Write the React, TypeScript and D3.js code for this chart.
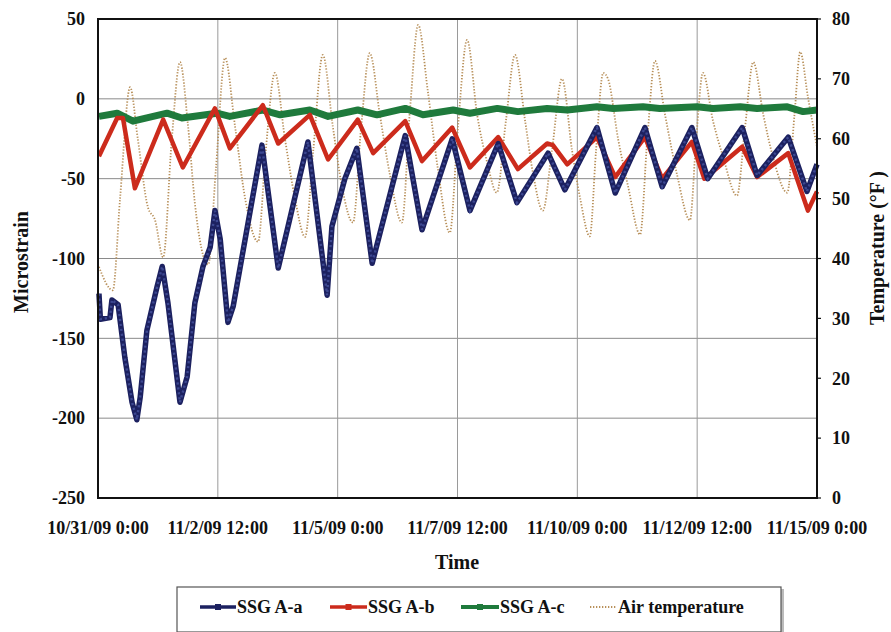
import React from "react";
import * as d3 from "d3";

// ---------- data (day offset from 10/31/09 0:00, value) ----------
const START_MS = Date.UTC(2009, 9, 31);
const xTickDays = [0, 2.5, 5, 7.5, 10, 12.5, 15];
const xTickLabels = [
  "10/31/09 0:00",
  "11/2/09 12:00",
  "11/5/09 0:00",
  "11/7/09 12:00",
  "11/10/09 0:00",
  "11/12/09 12:00",
  "11/15/09 0:00",
];
const leftTicks = [50, 0, -50, -100, -150, -200, -250];
const rightTicks = [80, 70, 60, 50, 40, 30, 20, 10, 0];

const ssgAa: [number, number][] = [
  [0.02, -122], [0.05, -138], [0.25, -137], [0.29, -126], [0.42, -129], [0.56, -162],
  [0.71, -190], [0.81, -201], [0.88, -187], [1.02, -145], [1.23, -118], [1.34, -105],
  [1.46, -128], [1.71, -190], [1.86, -174], [2.02, -128], [2.19, -105], [2.34, -93],
  [2.44, -70], [2.55, -88], [2.71, -140], [2.82, -130], [3.42, -29], [3.76, -106],
  [4.38, -27], [4.78, -123], [4.88, -80], [5.15, -50], [5.4, -31], [5.72, -103],
  [6.41, -23], [6.76, -82], [7.39, -25], [7.76, -70], [8.35, -28], [8.74, -65],
  [9.39, -34], [9.74, -57], [10.41, -18], [10.79, -59], [11.41, -18], [11.77, -55],
  [12.39, -18], [12.72, -50], [13.44, -18], [13.75, -48], [14.4, -24], [14.79, -58],
  [15.0, -41],
];

const ssgAb: [number, number][] = [
  [0.02, -36], [0.4, -12], [0.52, -12], [0.77, -56], [1.36, -13], [1.77, -43],
  [2.44, -6], [2.75, -31], [3.44, -4], [3.76, -28], [4.42, -10], [4.8, -38],
  [5.42, -13], [5.74, -34], [6.41, -14], [6.76, -39], [7.39, -18], [7.76, -43],
  [8.35, -24], [8.76, -44], [9.37, -28], [9.49, -29], [9.79, -41], [10.41, -24],
  [10.79, -49], [11.41, -24], [11.77, -50], [12.39, -27], [12.65, -50], [13.44, -30],
  [13.75, -49], [14.4, -34], [14.81, -70], [15.0, -58],
];

const ssgAc: [number, number][] = [
  [0.02, -11], [0.4, -9], [0.73, -14], [1.44, -9], [1.75, -12], [2.48, -9], [2.75, -11],
  [3.44, -7], [3.8, -10], [4.42, -7], [4.8, -11], [5.42, -7], [5.82, -10], [6.41, -6],
  [6.78, -10], [7.41, -7], [7.76, -9], [8.33, -6], [8.76, -8], [9.37, -6], [9.79, -7],
  [10.41, -5], [10.75, -6], [11.37, -5], [11.72, -6], [12.5, -5], [12.83, -6],
  [13.4, -5], [13.75, -6], [14.38, -5], [14.71, -8], [15.0, -7],
];

const airTemp: [number, number][] = [
  [0.02, 38.6], [0.31, 34.7], [0.46, 50], [0.67, 68.6], [0.83, 60], [1.04, 48.6],
  [1.19, 46.4], [1.36, 40.2], [1.54, 60], [1.71, 72.8], [1.88, 62], [2.02, 49.3],
  [2.3, 39], [2.46, 55], [2.65, 73.5], [2.86, 62], [3.07, 50], [3.34, 42.8],
  [3.5, 58], [3.69, 71], [3.9, 60], [4.11, 50], [4.32, 43.6], [4.49, 58], [4.69, 74],
  [4.9, 62], [5.09, 52], [5.32, 46], [5.49, 62], [5.67, 74.3], [5.88, 64], [6.09, 54],
  [6.34, 46], [6.51, 65], [6.68, 79], [6.88, 68], [7.09, 55], [7.34, 44.3], [7.51, 62],
  [7.7, 76.5], [7.91, 64], [8.12, 56], [8.32, 51], [8.51, 63], [8.7, 74], [8.91, 63],
  [9.08, 54], [9.28, 48], [9.47, 58], [9.68, 70], [9.89, 58], [10.06, 50], [10.26, 43.7],
  [10.39, 58], [10.54, 71], [10.64, 70], [10.85, 60], [11.06, 52], [11.31, 44],
  [11.46, 60], [11.62, 73], [11.83, 64], [12.08, 54], [12.35, 46.4], [12.48, 60],
  [12.62, 71], [12.83, 63], [13.04, 57], [13.33, 50.5], [13.5, 62], [13.67, 72.8],
  [13.88, 64], [14.08, 57], [14.38, 51], [14.53, 64], [14.65, 74.5], [14.81, 67],
  [15.0, 58.6],
];

// ---------- layout ----------
const W = 891;
const H = 632;
const PL = 98, PR = 817, PT = 19, PB = 498;
const FONT = "'Liberation Serif', 'Times New Roman', serif";
const C_A = "#1c2160";
const C_B = "#cc2b1c";
const C_C = "#1f7a3c";
const C_AIR = "#b8905a";

const toDate = (d: number) => new Date(START_MS + d * 864e5);

export default function App() {
  const x = d3.scaleTime().domain([toDate(0), toDate(15)]).range([PL, PR]);
  const yL = d3.scaleLinear().domain([-250, 50]).range([PB, PT]);
  const yR = d3.scaleLinear().domain([0, 80]).range([PB, PT]);

  const lineL = d3
    .line<[number, number]>()
    .x((d) => x(toDate(d[0])))
    .y((d) => yL(d[1]));
  const lineAir = d3
    .line<[number, number]>()
    .x((d) => x(toDate(d[0])))
    .y((d) => yR(d[1]))
    .curve(d3.curveMonotoneX);

  const legendY = 607;
  const legendItems = [
    { label: "SSG A-a", color: C_A, x0: 200, x1: 236, type: "a" },
    { label: "SSG A-b", color: C_B, x0: 330, x1: 367, type: "b" },
    { label: "SSG A-c", color: C_C, x0: 461, x1: 499, type: "c" },
    { label: "Air temperature", color: C_AIR, x0: 590, x1: 617, type: "air" },
  ];

  return (
    <svg width={W} height={H} style={{ position: "absolute", left: 0, top: 0, background: "#fff" }}>
      <rect x={0} y={0} width={W} height={H} fill="#fff" />
      {/* grid */}
      {leftTicks.map((t) => (
        <line key={"hg" + t} x1={PL} x2={PR} y1={yL(t)} y2={yL(t)} stroke="#8a8a8a" strokeWidth={1} />
      ))}
      {xTickDays.map((d) => (
        <line key={"vg" + d} x1={x(toDate(d))} x2={x(toDate(d))} y1={PT} y2={PB} stroke="#9a9a9a" strokeWidth={1} />
      ))}

      {/* series */}
      <path d={lineAir(airTemp) || ""} fill="none" stroke={C_AIR} strokeWidth={1.8} strokeDasharray="1.3 1.7" />
      <path d={lineL(ssgAc) || ""} fill="none" stroke={C_C} strokeWidth={7} strokeLinejoin="round" />
      <path d={lineL(ssgAb) || ""} fill="none" stroke={C_B} strokeWidth={4.5} strokeLinejoin="round" />
      <path d={lineL(ssgAa) || ""} fill="none" stroke={C_A} strokeWidth={5.5} strokeLinejoin="round" />
      <path d={lineL(ssgAa) || ""} fill="none" stroke="#4c5aa6" strokeWidth={2.4} strokeDasharray="2.2 2.8" opacity={0.7} />

      {/* frame */}
      <rect x={PL} y={PT} width={PR - PL} height={PB - PT} fill="none" stroke="#111" strokeWidth={2} />

      {/* left ticks */}
      {leftTicks.map((t) => (
        <text key={"lt" + t} x={85} y={yL(t)} dy="0.35em" textAnchor="end" fontFamily={FONT} fontWeight="bold" fontSize={18} fill="#111">
          {t}
        </text>
      ))}
      {/* right ticks */}
      {rightTicks.map((t) => (
        <g key={"rt" + t}>
          <line x1={PR} x2={PR + 4} y1={yR(t)} y2={yR(t)} stroke="#111" strokeWidth={1.2} />
          <text x={832} y={yR(t)} dy="0.35em" textAnchor="start" fontFamily={FONT} fontWeight="bold" fontSize={18} fill="#111">
            {t}
          </text>
        </g>
      ))}
      {/* x tick labels */}
      {xTickDays.map((d, i) => (
        <text key={"xt" + d} x={x(toDate(d))} y={534} textAnchor="middle" fontFamily={FONT} fontWeight="bold" fontSize={18} fill="#111">
          {xTickLabels[i]}
        </text>
      ))}

      {/* axis titles */}
      <text x={457} y={569} textAnchor="middle" fontFamily={FONT} fontWeight="bold" fontSize={20} fill="#111">
        Time
      </text>
      <text transform={`translate(28,262) rotate(-90)`} textAnchor="middle" fontFamily={FONT} fontWeight="bold" fontSize={20} fill="#111">
        Microstrain
      </text>
      <text transform={`translate(884,248) rotate(-90)`} textAnchor="middle" fontFamily={FONT} fontWeight="bold" fontSize={20} fill="#111">
        Temperature (°F )
      </text>

      {/* legend */}
      <rect x={179} y={589} width={605} height={46} fill="#bbb" />
      <rect x={177} y={587} width={604} height={45} fill="#fff" stroke="#555" strokeWidth={1.2} />
      {legendItems.map((it) => (
        <g key={it.label}>
          {it.type === "air" ? (
            <line x1={it.x0} x2={it.x1} y1={legendY} y2={legendY} stroke={it.color} strokeWidth={1.8} strokeDasharray="1.3 1.7" />
          ) : (
            <>
              <line x1={it.x0} x2={it.x1} y1={legendY} y2={legendY} stroke={it.color} strokeWidth={it.type === "c" ? 4 : 3.5} />
              <rect x={(it.x0 + it.x1) / 2 - 2.5} y={legendY - 2.5} width={5} height={5} fill={it.color} stroke={it.color} />
            </>
          )}
          <text x={it.x1 + 1} y={legendY} dy="0.35em" fontFamily={FONT} fontWeight="bold" fontSize={18} fill="#111">
            {it.label}
          </text>
        </g>
      ))}
    </svg>
  );
}
